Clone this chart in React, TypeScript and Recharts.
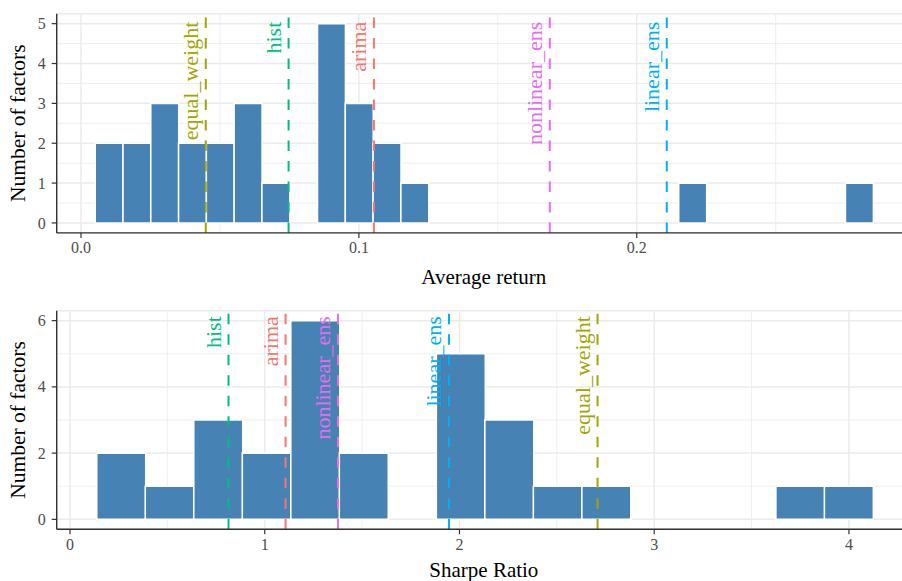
import React from "react"
import {
  Bar,
  CartesianGrid,
  ComposedChart,
  ReferenceLine,
  XAxis,
  YAxis,
} from "recharts"

// ---- data: average return histogram ----
const returnBins = [
  0.0101, 0.0201, 0.0301, 0.0401, 0.0501, 0.0601, 0.0701, 0.0801, 0.0901, 0.1001,
  0.1101, 0.1201, 0.1301, 0.1401, 0.1501, 0.1601, 0.1701, 0.1801, 0.1901, 0.2001,
  0.2101, 0.2201, 0.2301, 0.2401, 0.2501, 0.2601, 0.2701, 0.2801,
]
const returnCounts = [
  2, 2, 3, 2, 2, 3, 1, 0, 5, 3,
  2, 1, 0, 0, 0, 0, 0, 0, 0, 0,
  0, 1, 0, 0, 0, 0, 0, 1,
]
const returnXTicks = [0, 0.1, 0.2]
const returnXMinor = [0.05, 0.15, 0.25]
const returnYTicks = [0, 1, 2, 3, 4, 5]
const returnYMinor = [0.5, 1.5, 2.5, 3.5, 4.5]

// ---- data: sharpe ratio histogram ----
const sharpeBins = [
  0.2619, 0.511, 0.7601, 1.0092, 1.2583, 1.5074, 1.7565, 2.0056,
  2.2547, 2.5038, 2.7529, 3.002, 3.2511, 3.5002, 3.7493, 3.9984,
]
const sharpeCounts = [2, 1, 3, 2, 6, 2, 0, 5, 3, 1, 1, 0, 0, 0, 1, 1]
const sharpeXTicks = [0, 1, 2, 3, 4]
const sharpeXMinor = [0.5, 1.5, 2.5, 3.5]
const sharpeYTicks = [0, 2, 4, 6]
const sharpeYMinor = [1, 3, 5]

// ---- method means (dashed lines) ----
const methods = ["arima", "equal_weight", "hist", "linear_ens", "nonlinear_ens"]
const methodColors = ["#F8766D", "#A3A500", "#00BF7D", "#00B0F6", "#E76BF3"]
const methodReturn = [0.1054, 0.0449, 0.0747, 0.2108, 0.1687]
const methodSharpe = [1.107, 2.709, 0.814, 1.946, 1.376]

const FONT = "'Liberation Serif', 'Times New Roman', serif"
const BAR_FILL = "#4682B4"
const GRID = "#EBEBEB"
const INK = "#333333"

const returnData = returnBins.map((x, i) => ({ x, count: returnCounts[i] }))
const sharpeData = sharpeBins.map((x, i) => ({ x, count: sharpeCounts[i] }))

const LineLabel = ({ viewBox, text, color, top }: any) => {
  const x = viewBox.x - 8
  const y = viewBox.y + top
  return (
    <text
      x={x}
      y={y}
      transform={`rotate(-90 ${x} ${y})`}
      textAnchor="end"
      fill={color}
      fontSize={22}
      fontFamily={FONT}
    >
      {text}
    </text>
  )
}

const XTitle = ({ viewBox, text, drop }: any) => (
  <text
    x={viewBox.x + viewBox.width / 2}
    y={viewBox.y + drop}
    textAnchor="middle"
    fill="#000"
    fontSize={21}
    fontFamily={FONT}
  >
    {text}
  </text>
)

const YTitle = ({ viewBox, text }: any) => {
  const x = 25
  const y = viewBox.y + viewBox.height / 2
  return (
    <text
      x={x}
      y={y}
      transform={`rotate(-90 ${x} ${y})`}
      textAnchor="middle"
      fill="#000"
      fontSize={21.5}
      fontFamily={FONT}
    >
      {text}
    </text>
  )
}

// tick text drawn by hand so the serif face is used
const TickText = ({ x, y, payload, textAnchor, fmt, side }: any) => (
  <text
    x={x}
    y={y}
    dy={side === "x" ? "0.71em" : "0.35em"}
    textAnchor={textAnchor}
    fill="#4D4D4D"
    fontSize={16}
    fontFamily={FONT}
  >
    {fmt(payload.value)}
  </text>
)

type PanelProps = {
  data: { x: number; count: number }[]
  xDomain: [number, number]
  yDomain: [number, number]
  xTicks: number[]
  xMinor: number[]
  yTicks: number[]
  yMinor: number[]
  means: number[]
  height: number
  marginTop: number
  xAxisHeight: number
  xTitle: string
  xTitleDrop: number
  labelTop: number
  tickFmt: (v: number) => string
}

function Histogram(p: PanelProps) {
  return (
    <ComposedChart
      width={912}
      height={p.height}
      data={p.data}
      margin={{ top: p.marginTop, right: 1, bottom: 0, left: 0 }}
      barCategoryGap={0}
      barGap={0}
      style={{ fontFamily: FONT }}
    >
      <CartesianGrid
        stroke={GRID}
        strokeWidth={0.8}
        horizontalValues={p.yMinor}
        verticalValues={p.xMinor}
      />
      <CartesianGrid stroke={GRID} strokeWidth={1.5} />
      <XAxis
        dataKey="x"
        type="number"
        domain={p.xDomain}
        allowDataOverflow
        ticks={p.xTicks}
        tick={<TickText fmt={p.tickFmt} side="x" />}
        tickSize={5}
        tickMargin={4}
        tickLine={{ stroke: INK, strokeWidth: 1.2 }}
        axisLine={{ stroke: INK, strokeWidth: 1.4 }}
        height={p.xAxisHeight}
        label={<XTitle text={p.xTitle} drop={p.xTitleDrop} />}
      />
      <XAxis
        xAxisId="top"
        orientation="top"
        type="number"
        domain={p.xDomain}
        allowDataOverflow
        height={0}
        tick={false}
        tickLine={false}
        axisLine={{ stroke: INK, strokeWidth: 1.4 }}
      />
      <YAxis
        type="number"
        domain={p.yDomain}
        allowDataOverflow
        ticks={p.yTicks}
        width={56.7}
        tick={<TickText fmt={(v: number) => String(v)} side="y" />}
        tickSize={5}
        tickMargin={6}
        tickLine={{ stroke: INK, strokeWidth: 1.2 }}
        axisLine={{ stroke: INK, strokeWidth: 1.4 }}
        label={<YTitle text="Number of factors" />}
      />
      <Bar
        dataKey="count"
        fill={BAR_FILL}
        stroke="#FFFFFF"
        strokeWidth={1.6}
        isAnimationActive={false}
      />
      {methods.map((m, i) => (
        <ReferenceLine
          key={m}
          x={p.means[i]}
          stroke={methodColors[i]}
          strokeWidth={2}
          strokeDasharray="10.5 10"
          label={<LineLabel text={m} color={methodColors[i]} top={p.labelTop} />}
        />
      ))}
    </ComposedChart>
  )
}

export default function App() {
  return (
    <div
      style={{
        position: "absolute",
        left: 0,
        top: 0,
        width: 902,
        height: 581,
        overflow: "hidden",
        background: "#fff",
      }}
    >
      <div style={{ position: "absolute", left: 0, top: 0 }}>
        <Histogram
          data={returnData}
          xDomain={[-0.00875, 0.2987]}
          yDomain={[-0.25, 5.25]}
          xTicks={returnXTicks}
          xMinor={returnXMinor}
          yTicks={returnYTicks}
          yMinor={returnYMinor}
          means={methodReturn}
          height={290}
          marginTop={13.7}
          xAxisHeight={57.1}
          xTitle="Average return"
          xTitleDrop={50.6}
          labelTop={8}
          tickFmt={(v) => v.toFixed(1)}
        />
      </div>
      <div style={{ position: "absolute", left: 0, top: 290 }}>
        <Histogram
          data={sharpeData}
          xDomain={[-0.0683, 4.3187]}
          yDomain={[-0.3, 6.3]}
          xTicks={sharpeXTicks}
          xMinor={sharpeXMinor}
          yTicks={sharpeYTicks}
          yMinor={sharpeYMinor}
          means={methodSharpe}
          height={291}
          marginTop={20.7}
          xAxisHeight={51.7}
          xTitle="Sharpe Ratio"
          xTitleDrop={47.7}
          labelTop={5.5}
          tickFmt={(v) => String(v)}
        />
      </div>
    </div>
  )
}
